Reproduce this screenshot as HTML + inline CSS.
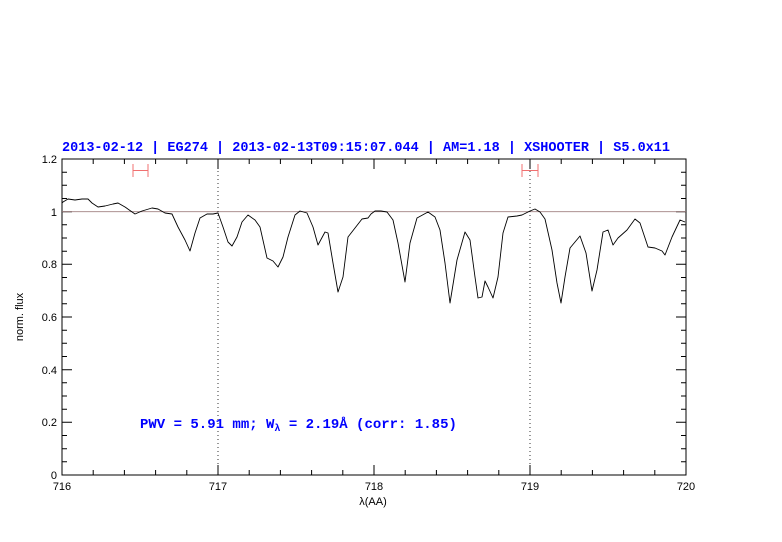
<!DOCTYPE html>
<html><head><meta charset="utf-8"><style>
html,body{margin:0;padding:0;background:#fff}
svg{display:block}
text{font-family:"Liberation Sans",sans-serif}
</style></head><body>
<svg width="782" height="542" viewBox="0 0 782 542" xmlns="http://www.w3.org/2000/svg">
<text x="366" y="151" text-anchor="middle" fill="#0000ff" style="font-family:'Liberation Mono',monospace;font-size:13.5px;font-weight:bold" textLength="608">2013-02-12 | EG274 | 2013-02-13T09:15:07.044 | AM=1.18 | XSHOOTER | S5.0x11</text>
<rect x="62" y="159" width="624" height="316" fill="none" stroke="#000" stroke-width="1"/>
<g stroke="#000" stroke-width="1">
<path d="
M62,475v-10M218,475v-10M374,475v-10M530,475v-10M686,475v-10
M62,159v10M218,159v10M374,159v10M530,159v10M686,159v10
M93.2,475v-5M124.4,475v-5M155.6,475v-5M186.8,475v-5M249.2,475v-5M280.4,475v-5M311.6,475v-5M342.8,475v-5M405.2,475v-5M436.4,475v-5M467.6,475v-5M498.8,475v-5M561.2,475v-5M592.4,475v-5M623.6,475v-5M654.8,475v-5
M93.2,159v5M124.4,159v5M155.6,159v5M186.8,159v5M249.2,159v5M280.4,159v5M311.6,159v5M342.8,159v5M405.2,159v5M436.4,159v5M467.6,159v5M498.8,159v5M561.2,159v5M592.4,159v5M623.6,159v5M654.8,159v5
M62,422.3h10M62,369.7h10M62,317h10M62,264.3h10M62,211.7h10
M686,422.3h-10M686,369.7h-10M686,317h-10M686,264.3h-10M686,211.7h-10
M62,461.8h5M62,448.7h5M62,435.5h5M62,409.2h5M62,396h5M62,382.8h5M62,356.5h5M62,343.3h5M62,330.2h5M62,303.8h5M62,290.7h5M62,277.5h5M62,251.2h5M62,238h5M62,224.8h5M62,198.5h5M62,185.3h5M62,172.2h5
M686,461.8h-5M686,448.7h-5M686,435.5h-5M686,409.2h-5M686,396h-5M686,382.8h-5M686,356.5h-5M686,343.3h-5M686,330.2h-5M686,303.8h-5M686,290.7h-5M686,277.5h-5M686,251.2h-5M686,238h-5M686,224.8h-5M686,198.5h-5M686,185.3h-5M686,172.2h-5"/>
</g>
<g font-size="11" fill="#000" text-anchor="end">
<text x="57" y="479">0</text><text x="57" y="426">0.2</text><text x="57" y="374">0.4</text><text x="57" y="321">0.6</text><text x="57" y="268">0.8</text><text x="57" y="216">1</text><text x="57" y="163">1.2</text>
</g>
<g font-size="11" fill="#000" text-anchor="middle">
<text x="62" y="490">716</text><text x="218" y="490">717</text><text x="374" y="490">718</text><text x="530" y="490">719</text><text x="686" y="490">720</text>
<text x="373" y="505">λ(AA)</text>
</g>
<text transform="translate(23,317) rotate(-90)" font-size="11" text-anchor="middle" fill="#000">norm. flux</text>
<line x1="62" y1="211.7" x2="686" y2="211.7" stroke="#a08080" stroke-width="0.8"/>
<line x1="218" y1="159" x2="218" y2="475" stroke="#000" stroke-dasharray="1,3" stroke-width="0.8"/>
<line x1="530" y1="159" x2="530" y2="475" stroke="#000" stroke-dasharray="1,3" stroke-width="0.8"/>
<g stroke="#f07070" stroke-width="1" fill="none">
<path d="M133,164v13M148,164v13M133,170.5h15"/>
<path d="M522,164v13M538,164v13M522,170.5h16"/>
</g>
<polyline fill="none" stroke="#000" stroke-width="0.9" stroke-linejoin="round" points="62,203 63,202 68,199 75,200 82,199 88,199 92,203 98,207 105,206 113,204 118,203 125,207 135,214 142,211 152,208 158,209 165,213 172,214 178,227 185,240 190,251 195,233 200,218 207,214 213,214 218,213 223,227 228,242 232,246 237,237 242,222 248,215 255,220 260,227 267,258 273,261 278,267 283,257 288,237 295,215 300,211 307,213 313,227 318,245 325,232 328,233 333,263 338,292 343,277 348,237 355,228 362,219 368,218 371,214 375,211 381,211 387,212 393,220 398,243 405,282 410,243 417,218 428,212 435,217 440,230 445,263 450,303 457,260 465,232 470,240 475,277 478,298 482,297 485,281 488,287 493,298 498,277 503,233 508,217 517,216 522,215 530,211 535,209 540,212 545,219 552,250 557,283 561,303 565,277 570,248 580,236 586,253 592,291 597,270 603,232 608,230 613,245 618,238 627,230 635,219 640,223 648,247 655,248 662,251 665,255 672,237 680,220 685,222"/>
<text x="140" y="428" fill="#0000ff" style="font-family:'Liberation Mono',monospace;font-size:14px;font-weight:bold">PWV = 5.91 mm; W<tspan font-size="10" dy="3">λ</tspan><tspan dy="-3"> = 2.19Å (corr: 1.85)</tspan></text>
</svg>
</body></html>
